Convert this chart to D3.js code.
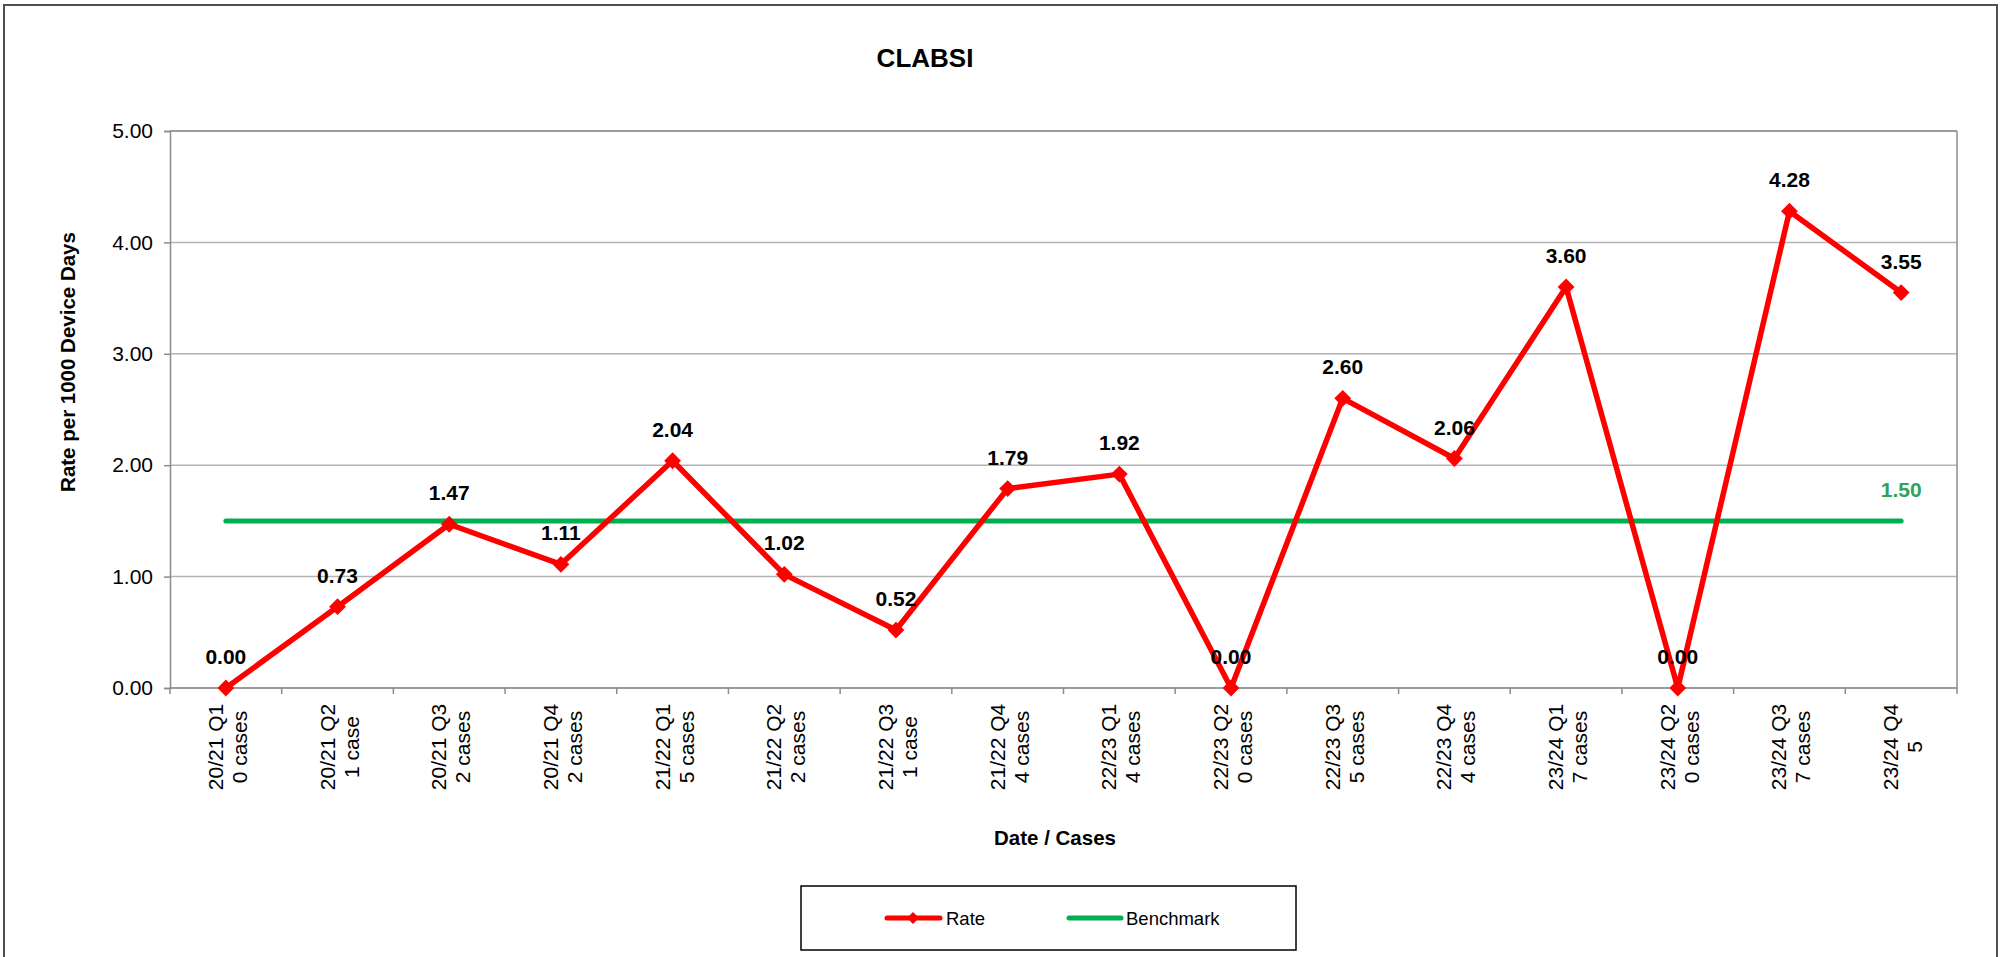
<!DOCTYPE html>
<html>
<head>
<meta charset="utf-8">
<script src="https://cdn.jsdelivr.net/npm/d3@7"></script>
<style>
  body { margin: 0; background: #fff; }
  svg { display: block; font-family: "Liberation Sans", Arial, sans-serif; }
</style>
</head>
<body>
<svg id="chart" width="2001" height="957"></svg>
<script>
// data
const periods = ["20/21 Q1","20/21 Q2","20/21 Q3","20/21 Q4","21/22 Q1","21/22 Q2","21/22 Q3","21/22 Q4",
  "22/23 Q1","22/23 Q2","22/23 Q3","22/23 Q4","23/24 Q1","23/24 Q2","23/24 Q3","23/24 Q4"];
const cases = ["0 cases","1 case","2 cases","2 cases","5 cases","2 cases","1 case","4 cases",
  "4 cases","0 cases","5 cases","4 cases","7 cases","0 cases","7 cases","5"];
const rate = [0.00,0.73,1.47,1.11,2.04,1.02,0.52,1.79,1.92,0.00,2.60,2.06,3.60,0.00,4.28,3.55];
const benchmark = [1.5,1.5,1.5,1.5,1.5,1.5,1.5,1.5,1.5,1.5,1.5,1.5,1.5,1.5,1.5,1.5];
const yTicks = [0,1,2,3,4,5];

const svg = d3.select("#chart");
const margin = {left: 170, right: 44, top: 131, bottom: 269};
const width = 2001 - margin.left - margin.right;
const height = 957 - margin.top - margin.bottom;

// outer frame
svg.append("rect")
  .attr("x", 4).attr("y", 5)
  .attr("width", 1993).attr("height", 980)
  .attr("fill", "none")
  .attr("stroke", "#505050")
  .attr("stroke-width", 2);

const g = svg.append("g").attr("transform", `translate(${margin.left},${margin.top})`);

const x = d3.scaleBand().domain(periods).range([0, width]);
const y = d3.scaleLinear().domain([0, 5]).range([height, 0]);
const cx = d => x(d) + x.bandwidth() / 2;

// grid
g.append("g")
  .selectAll("line")
  .data(yTicks)
  .enter().append("line")
  .attr("x1", 0).attr("x2", width)
  .attr("y1", d => y(d)).attr("y2", d => y(d))
  .attr("stroke", "#b4b4b4")
  .attr("stroke-width", 1.5);

// plot border top + right
g.append("line")
  .attr("x1", width).attr("x2", width)
  .attr("y1", 0).attr("y2", height)
  .attr("stroke", "#8c8c8c").attr("stroke-width", 1.5);
g.append("line")
  .attr("x1", 0).attr("x2", width)
  .attr("y1", 0).attr("y2", 0)
  .attr("stroke", "#8c8c8c").attr("stroke-width", 1.5);

// y axis
const yAxis = g.append("g")
  .call(d3.axisLeft(y).tickValues(yTicks).tickSize(6).tickPadding(11).tickFormat(d3.format(".2f")));
yAxis.select(".domain").attr("stroke", "#8c8c8c").attr("stroke-width", 1.5);
yAxis.selectAll(".tick line").attr("stroke", "#8c8c8c").attr("stroke-width", 1.5);
yAxis.selectAll(".tick text")
  .attr("font-size", 21)
  .attr("fill", "#000")
  .attr("font-family", "Liberation Sans, Arial, sans-serif");

// x axis baseline + ticks at band boundaries
g.append("line")
  .attr("x1", 0).attr("x2", width)
  .attr("y1", height).attr("y2", height)
  .attr("stroke", "#8c8c8c").attr("stroke-width", 1.5);
const bounds = periods.map(d => x(d)).concat([x.range()[1]]);
g.append("g")
  .selectAll("line")
  .data(bounds)
  .enter().append("line")
  .attr("x1", d => d).attr("x2", d => d)
  .attr("y1", height).attr("y2", height + 6)
  .attr("stroke", "#8c8c8c").attr("stroke-width", 1.5);

// x tick labels, rotated, two lines centred
const xl = g.append("g").selectAll("text")
  .data(periods)
  .enter().append("text")
  .attr("transform", d => `translate(${cx(d)},${height + 59}) rotate(-90)`)
  .attr("text-anchor", "middle")
  .attr("font-size", 21)
  .attr("fill", "#000");
xl.append("tspan").attr("x", 0).attr("y", -3).text(d => d);
xl.append("tspan").attr("x", 0).attr("y", 21).text((d, i) => cases[i]);

// benchmark line
const line = d3.line().x(d => cx(d.p)).y(d => y(d.v));
g.append("path")
  .datum(periods.map((p, i) => ({p, v: benchmark[i]})))
  .attr("fill", "none")
  .attr("stroke", "#00b050")
  .attr("stroke-width", 5)
  .attr("stroke-linecap", "round")
  .attr("d", line);

// rate line
const rateData = periods.map((p, i) => ({p, v: rate[i]}));
g.append("path")
  .datum(rateData)
  .attr("fill", "none")
  .attr("stroke", "#ff0000")
  .attr("stroke-width", 5.5)
  .attr("stroke-linejoin", "round")
  .attr("d", line);

const diamond = d3.symbol().type(d3.symbolDiamond2).size(180);
g.selectAll(".dot")
  .data(rateData)
  .enter().append("path")
  .attr("class", "dot")
  .attr("transform", d => `translate(${cx(d.p)},${y(d.v)})`)
  .attr("d", diamond)
  .attr("fill", "#ff0000");

// data labels
g.selectAll(".lbl")
  .data(rateData)
  .enter().append("text")
  .attr("class", "lbl")
  .attr("x", d => cx(d.p))
  .attr("y", d => y(d.v) - 24)
  .attr("text-anchor", "middle")
  .attr("font-size", 21)
  .attr("font-weight", "bold")
  .attr("fill", "#000")
  .text(d => d.v.toFixed(2));

// benchmark label on last point
const lastP = periods[periods.length - 1];
g.append("text")
  .attr("x", cx(lastP))
  .attr("y", y(benchmark[benchmark.length - 1]) - 24)
  .attr("text-anchor", "middle")
  .attr("font-size", 21)
  .attr("font-weight", "bold")
  .attr("fill", "#2fa15c")
  .text(benchmark[benchmark.length - 1].toFixed(2));

// titles
svg.append("text")
  .attr("x", 925).attr("y", 67)
  .attr("text-anchor", "middle")
  .attr("font-size", 26)
  .attr("font-weight", "bold")
  .text("CLABSI");

svg.append("text")
  .attr("transform", "translate(75,362) rotate(-90)")
  .attr("text-anchor", "middle")
  .attr("font-size", 20.5)
  .attr("font-weight", "bold")
  .text("Rate per 1000 Device Days");

svg.append("text")
  .attr("x", 1055).attr("y", 845)
  .attr("text-anchor", "middle")
  .attr("font-size", 20.5)
  .attr("font-weight", "bold")
  .text("Date / Cases");

// legend
const legend = svg.append("g");
legend.append("rect")
  .attr("x", 801).attr("y", 886)
  .attr("width", 495).attr("height", 64)
  .attr("fill", "#fff")
  .attr("stroke", "#000")
  .attr("stroke-width", 1.5);
legend.append("line")
  .attr("x1", 887).attr("x2", 940).attr("y1", 918).attr("y2", 918)
  .attr("stroke", "#ff0000").attr("stroke-width", 5).attr("stroke-linecap", "round");
legend.append("path")
  .attr("transform", "translate(913,918)")
  .attr("d", d3.symbol().type(d3.symbolDiamond2).size(90))
  .attr("fill", "#ff0000");
legend.append("text")
  .attr("x", 946).attr("y", 925)
  .attr("font-size", 18.5)
  .text("Rate");
legend.append("line")
  .attr("x1", 1069).attr("x2", 1121).attr("y1", 918).attr("y2", 918)
  .attr("stroke", "#00b050").attr("stroke-width", 5).attr("stroke-linecap", "round");
legend.append("text")
  .attr("x", 1126).attr("y", 925)
  .attr("font-size", 18.5)
  .text("Benchmark");
</script>
</body>
</html>
